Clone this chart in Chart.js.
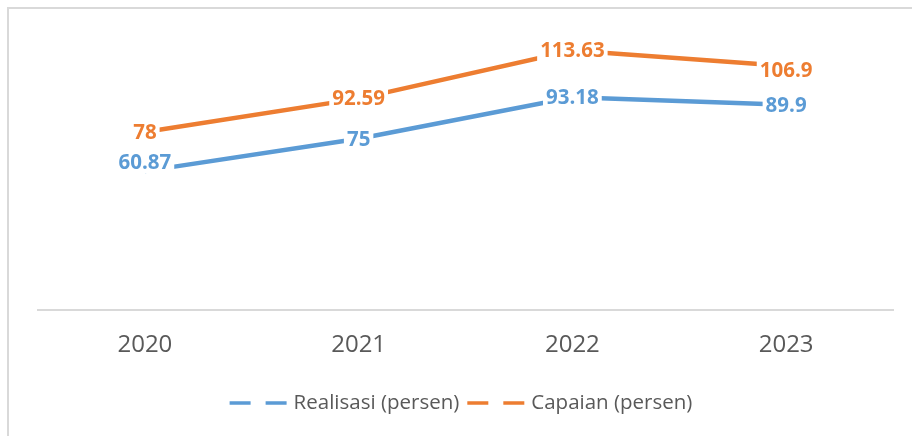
<!DOCTYPE html>
<html>
<head>
<meta charset="utf-8">
<script src="https://cdn.jsdelivr.net/npm/chart.js@4.4.1/dist/chart.umd.min.js"></script>
<style>
  html, body { margin: 0; padding: 0; background: #ffffff; }
  #wrap { position: relative; width: 912px; height: 436px; }
</style>
</head>
<body>
<div id="wrap"><canvas id="c" width="912" height="436"></canvas></div>
<script>
const categories = ['2020', '2021', '2022', '2023'];
const realisasi = [60.87, 75, 93.18, 89.9];
const capaian = [78, 92.59, 113.63, 106.9];
const seriesNames = ['Realisasi (persen)', 'Capaian (persen)'];
const yMin = 0;
const yMax = 120;

const BLUE = '#5B9BD5';
const ORANGE = '#ED7D31';
const GRAY_TEXT = '#595959';
const FONT = "'Open Sans', 'Liberation Sans', sans-serif";

const frame = {
  id: 'frame',
  beforeDraw(chart) {
    const ctx = chart.ctx;
    ctx.save();
    ctx.fillStyle = '#ffffff';
    ctx.fillRect(0, 0, chart.width, chart.height);
    ctx.strokeStyle = '#d9d9d9';
    ctx.lineWidth = 2;
    ctx.beginPath();
    ctx.moveTo(8, chart.height);
    ctx.lineTo(8, 8);
    ctx.lineTo(chart.width, 8);
    ctx.stroke();
    ctx.restore();
  }
};

const valueLabels = {
  id: 'valueLabels',
  afterDatasetsDraw(chart, args, opts) {
    const ctx = chart.ctx;
    ctx.save();
    ctx.font = 'bold 20.5px ' + FONT;
    ctx.textAlign = 'center';
    ctx.textBaseline = 'middle';
    chart.data.datasets.forEach((ds, di) => {
      const meta = chart.getDatasetMeta(di);
      const offs = (opts.offsets && opts.offsets[di]) || [];
      meta.data.forEach((pt, i) => {
        const txt = String(ds.data[i]);
        const w = ctx.measureText(txt).width;
        const x = pt.x;
        const y = pt.y + (offs[i] || 0);
        ctx.fillStyle = '#ffffff';
        ctx.fillRect(x - w / 2 - 3, y - 11, w + 6, 22);
        ctx.fillStyle = ds.borderColor;
        ctx.fillText(txt, x, y + 1);
      });
    });
    ctx.restore();
  }
};

const dashLegend = {
  id: 'dashLegend',
  afterDraw(chart) {
    const ctx = chart.ctx;
    ctx.save();
    ctx.font = '20.5px ' + FONT;
    ctx.textBaseline = 'middle';
    const y = 403;
    const items = chart.data.datasets.map(ds => ({ label: ds.label, color: ds.borderColor }));
    const sample = 57, gapText = 7, gapItem = 8;
    let total = 0;
    items.forEach((it, i) => {
      total += sample + gapText + ctx.measureText(it.label).width + (i < items.length - 1 ? gapItem : 0);
    });
    let x = chart.width / 2 - total / 2 + 5;
    items.forEach(it => {
      ctx.strokeStyle = it.color;
      ctx.lineWidth = 3.5;
      ctx.setLineDash([21, 15]);
      ctx.beginPath();
      ctx.moveTo(x, y);
      ctx.lineTo(x + sample, y);
      ctx.stroke();
      ctx.setLineDash([]);
      x += sample + gapText;
      ctx.fillStyle = GRAY_TEXT;
      ctx.textAlign = 'left';
      ctx.fillText(it.label, x, y);
      x += ctx.measureText(it.label).width + gapItem;
    });
    ctx.restore();
  }
};

new Chart(document.getElementById('c'), {
  type: 'line',
  data: {
    labels: categories,
    datasets: [
      { label: seriesNames[0], data: realisasi, borderColor: BLUE, backgroundColor: BLUE,
        borderWidth: 4.5, pointRadius: 0, tension: 0, fill: false },
      { label: seriesNames[1], data: capaian, borderColor: ORANGE, backgroundColor: ORANGE,
        borderWidth: 4.5, pointRadius: 0, tension: 0, fill: false }
    ]
  },
  options: {
    responsive: false,
    animation: false,
    events: [],
    layout: { padding: { left: 38, right: 19, top: 36, bottom: 63 } },
    plugins: {
      legend: { display: false },
      tooltip: { enabled: false },
      valueLabels: { offsets: [[-9, 0, 0, 0], [0, 0, 0, 4]] }
    },
    scales: {
      x: {
        offset: true,
        grid: { display: false },
        border: { display: true, color: '#d9d9d9', width: 2 },
        ticks: { color: GRAY_TEXT, font: { family: FONT, size: 24 }, padding: 13, maxRotation: 0 }
      },
      y: {
        display: false,
        min: yMin,
        max: yMax
      }
    }
  },
  plugins: [frame, valueLabels, dashLegend]
});
</script>
</body>
</html>
